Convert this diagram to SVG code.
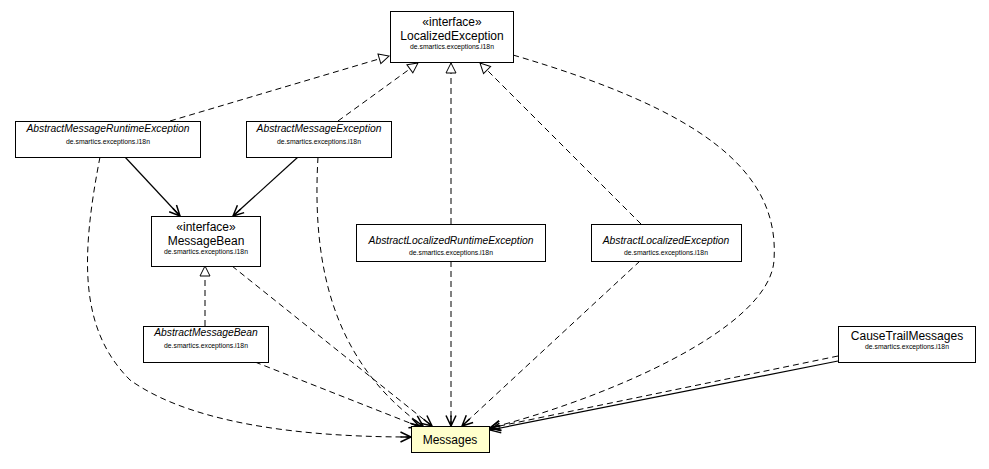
<svg xmlns="http://www.w3.org/2000/svg" width="989" height="469" viewBox="0 0 989 469">
<style>
.box{fill:#fff;stroke:#000;stroke-width:1}
.msg{fill:#ffffcc;stroke:#000;stroke-width:1}
.t{font-family:"Liberation Sans",Arial,sans-serif;font-size:12px;fill:#000;text-anchor:middle}
.i{font-family:"Liberation Sans",Arial,sans-serif;font-size:10.3px;font-style:italic;fill:#000;text-anchor:middle}
.p{font-family:"Liberation Sans",Arial,sans-serif;font-size:6.8px;fill:#000;text-anchor:middle}
.dash{fill:none;stroke:#000;stroke-width:1;stroke-dasharray:6 4}
.solid{fill:none;stroke:#000;stroke-width:1.2}
</style>
<defs>
<marker id="tri" viewBox="-1 -1 12 12" markerWidth="12" markerHeight="12" refX="10" refY="5" orient="auto" markerUnits="userSpaceOnUse">
<path d="M0,0 L10,5 L0,10 Z" fill="#fff" stroke="#000" stroke-width="1"/>
</marker>
<marker id="arr" viewBox="-1 -1 13 12" markerWidth="13" markerHeight="12" refX="10.5" refY="5" orient="auto" markerUnits="userSpaceOnUse">
<path d="M0,0 L10.5,5 L0,10 M0,5 L10.5,5" fill="none" stroke="#000" stroke-width="1.5"/>
</marker>
</defs>
<g id="connectors">
<path class="dash" d="M170,121 L389,56" marker-end="url(#tri)"/>
<path class="dash" d="M338,121 L418,63" marker-end="url(#tri)"/>
<path class="dash" d="M451,224 L451,63" marker-end="url(#tri)"/>
<path class="dash" d="M641,224 L480,63" marker-end="url(#tri)"/>
<path class="dash" d="M205,326 L205,266" marker-end="url(#tri)"/>
<path class="solid" d="M125,157 L180,216" marker-end="url(#arr)"/>
<path class="solid" d="M298,157 L233,216" marker-end="url(#arr)"/>
<path class="dash" d="M513,55 C700,110 780,170 774,260 C770,330 600,400 490,428" marker-end="url(#arr)"/>
<path class="dash" d="M100,157 C80,260 80,330 130,380 C200,430 330,437 411,437" marker-end="url(#arr)"/>
<path class="dash" d="M318,157 C312,260 330,360 423,426" marker-end="url(#arr)"/>
<path class="dash" d="M232,266 L432,426" marker-end="url(#arr)"/>
<path class="dash" d="M255,362 L420,427" marker-end="url(#arr)"/>
<path class="dash" d="M451,261 L451,426" marker-end="url(#arr)"/>
<path class="dash" d="M640,261 L462,426" marker-end="url(#arr)"/>
<path class="dash" d="M838,356 L490,428" marker-end="url(#arr)"/>
<path class="solid" d="M838,361 L490,430" marker-end="url(#arr)"/>
</g>
<g id="LocalizedException">
<rect class="box" x="390.5" y="11.5" width="123" height="51"/>
<text class="t" x="452" y="26">«interface»</text>
<text class="t" x="452" y="40">LocalizedException</text>
<text class="p" x="452" y="49">de.smartics.exceptions.i18n</text>
</g>
<g id="AbstractMessageRuntimeException">
<rect class="box" x="15.5" y="121.5" width="185" height="36"/>
<text class="i" x="108" y="132">AbstractMessageRuntimeException</text>
<text class="p" x="108" y="144">de.smartics.exceptions.i18n</text>
</g>
<g id="AbstractMessageException">
<rect class="box" x="246.5" y="121.5" width="145" height="36"/>
<text class="i" x="319" y="132">AbstractMessageException</text>
<text class="p" x="319" y="144">de.smartics.exceptions.i18n</text>
</g>
<g id="MessageBean">
<rect class="box" x="151.5" y="216.5" width="109" height="50"/>
<text class="t" x="206" y="231">«interface»</text>
<text class="t" x="206" y="245">MessageBean</text>
<text class="p" x="206" y="254">de.smartics.exceptions.i18n</text>
</g>
<g id="AbstractLocalizedRuntimeException">
<rect class="box" x="356.5" y="224.5" width="189" height="37"/>
<text class="i" x="451" y="244">AbstractLocalizedRuntimeException</text>
<text class="p" x="451" y="255">de.smartics.exceptions.i18n</text>
</g>
<g id="AbstractLocalizedException">
<rect class="box" x="591.5" y="224.5" width="150" height="37"/>
<text class="i" x="666" y="244">AbstractLocalizedException</text>
<text class="p" x="666" y="255">de.smartics.exceptions.i18n</text>
</g>
<g id="AbstractMessageBean">
<rect class="box" x="143.5" y="326.5" width="125" height="36"/>
<text class="i" x="206" y="336">AbstractMessageBean</text>
<text class="p" x="206" y="348">de.smartics.exceptions.i18n</text>
</g>
<g id="CauseTrailMessages">
<rect class="box" x="838.5" y="326.5" width="137" height="36"/>
<text class="t" x="907" y="340">CauseTrailMessages</text>
<text class="p" x="907" y="349">de.smartics.exceptions.i18n</text>
</g>
<g id="Messages">
<rect class="msg" x="411.5" y="426.5" width="78" height="26"/>
<text class="t" x="450" y="444">Messages</text>
</g>
</svg>
